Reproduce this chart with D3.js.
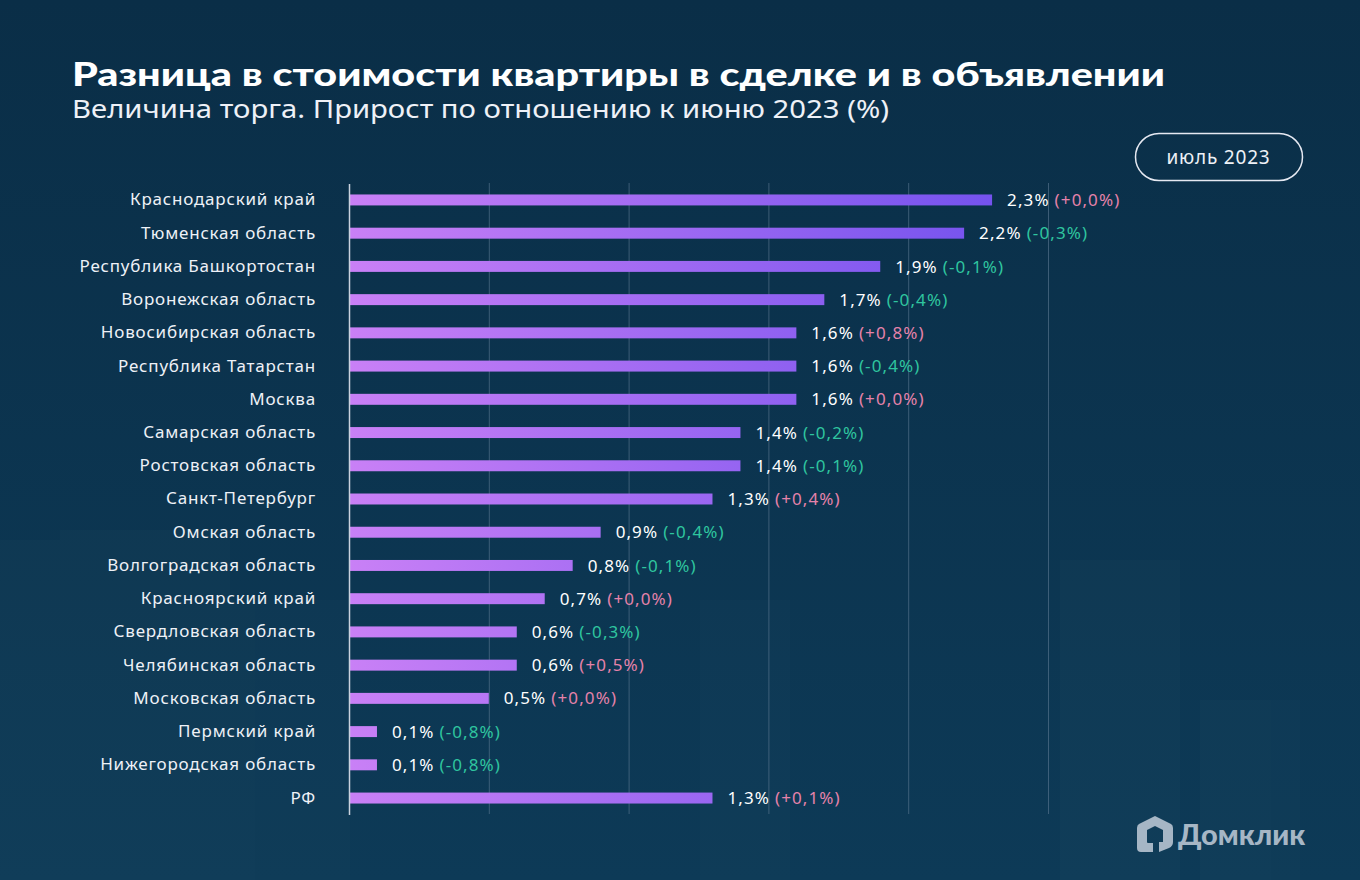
<!DOCTYPE html>
<html><head><meta charset="utf-8">
<script src="https://cdn.jsdelivr.net/npm/d3@7"></script>
<style>
html,body{margin:0;padding:0;background:#0c3350;}
svg{display:block;}
</style></head>
<body>
<script>
const regions = ["Краснодарский край","Тюменская область","Республика Башкортостан","Воронежская область","Новосибирская область","Республика Татарстан","Москва","Самарская область","Ростовская область","Санкт-Петербург","Омская область","Волгоградская область","Красноярский край","Свердловская область","Челябинская область","Московская область","Пермский край","Нижегородская область","РФ"];
const values = [2.3,2.2,1.9,1.7,1.6,1.6,1.6,1.4,1.4,1.3,0.9,0.8,0.7,0.6,0.6,0.5,0.1,0.1,1.3];
const changes = [0.0,-0.3,-0.1,-0.4,0.8,-0.4,0.0,-0.2,-0.1,0.4,-0.4,-0.1,0.0,-0.3,0.5,0.0,-0.8,-0.8,0.1];
const gridTicks = [0.5,1.0,1.5,2.0,2.5];
const title = "Разница в стоимости квартиры в сделке и в объявлении";
const subtitle = "Величина торга. Прирост по отношению к июню 2023 (%)";
const period = "июль 2023";
const brand = "Домклик";

const W=1360,H=880;
const svg=d3.select("body").append("svg").attr("width",W).attr("height",H);
const defs=svg.append("defs");
const grad=defs.append("linearGradient").attr("id","bg").attr("gradientUnits","userSpaceOnUse")
  .attr("x1",349).attr("x2",1000).attr("y1",0).attr("y2",0);
grad.append("stop").attr("offset",0).attr("stop-color","#c980f6");
grad.append("stop").attr("offset",1).attr("stop-color","#7452ee");

const bgGrad=defs.append("linearGradient").attr("id","bk").attr("x1",0).attr("x2",0).attr("y1",0).attr("y2",1);
bgGrad.append("stop").attr("offset",0).attr("stop-color","#0a2e47");
bgGrad.append("stop").attr("offset",1).attr("stop-color","#0d3a57");
svg.append("rect").attr("width",W).attr("height",H).attr("fill","url(#bk)");

// faint background silhouettes
const deco=svg.append("g").attr("fill","#ffffff").attr("opacity",0.012);
[[0,540,60,340],[60,530,170,350],[230,600,120,280],[1200,700,100,180],[1060,560,120,320],[700,600,90,280]].forEach(d=>{
  deco.append("rect").attr("x",d[0]).attr("y",d[1]).attr("width",d[2]).attr("height",d[3]);
});

const x=d3.scaleLinear().domain([0,2.5]).range([349,1048]);
const y=d3.scaleBand().domain(regions).range([183.5,814.5]).paddingInner(0.67).paddingOuter(0.33);

// title
svg.append("text").attr("x",72).attr("y",86).text(title)
  .attr("font-family","Lato, 'Noto Sans', sans-serif").attr("font-weight",900).attr("font-size",32)
  .attr("fill","#ffffff").attr("textLength",1093).attr("lengthAdjust","spacingAndGlyphs");
svg.append("text").attr("x",72).attr("y",118).text(subtitle)
  .attr("font-family","'Noto Sans', sans-serif").attr("font-weight",400).attr("font-size",25)
  .attr("fill","#eef1f7").attr("textLength",817).attr("lengthAdjust","spacingAndGlyphs");

// period pill
svg.append("rect").attr("x",1135.5).attr("y",133.5).attr("width",167).attr("height",47).attr("rx",23.5)
  .attr("fill","none").attr("stroke","#e6e9f2").attr("stroke-width",1.5);
svg.append("text").attr("x",1218.5).attr("y",164).attr("text-anchor","middle").text(period)
  .attr("font-family","'Noto Sans', sans-serif").attr("font-size",19).attr("letter-spacing",0.8).attr("fill","#eef1f7");

// grid
const gAxis=d3.axisBottom(x).tickValues(gridTicks).tickSize(-(814-183)).tickFormat("");
const gg=svg.append("g").attr("transform","translate(0,814)").call(gAxis);
gg.select(".domain").remove();
gg.selectAll(".tick line").attr("stroke","#5d7a93").attr("stroke-opacity",0.6).attr("stroke-width",1);

// bars
svg.append("g").selectAll("rect").data(regions).join("rect")
  .attr("x",x(0)).attr("y",d=>y(d)).attr("height",y.bandwidth())
  .attr("width",(d,i)=>x(values[i])-x(0)).attr("fill","url(#bg)");

// baseline axis
const yAxis=d3.axisLeft(y).tickSize(0).tickPadding(33);
const ya=svg.append("g").attr("transform","translate(349,0)").call(yAxis);
ya.select(".domain").attr("stroke","#c9d2de").attr("stroke-width",1.5);
ya.selectAll(".tick text").attr("font-family","'Noto Sans', sans-serif").attr("font-size",17)
  .attr("letter-spacing",0.8).attr("fill","#eef1f7");

const fmt=v=>v.toFixed(1).replace(".",",");
const lbl=svg.append("g").selectAll("text").data(regions).join("text")
  .attr("x",(d,i)=>x(values[i])+15).attr("y",d=>y(d)+y.bandwidth()/2).attr("dy","0.36em")
  .attr("font-family","'Noto Sans', sans-serif").attr("font-size",17).attr("letter-spacing",1.1);
lbl.append("tspan").attr("fill","#ffffff").text((d,i)=>fmt(values[i])+"%");
lbl.append("tspan").attr("dx",5).attr("fill",(d,i)=>changes[i]<0?"#2fc59f":"#e582aa")
  .text((d,i)=>"("+(changes[i]<0?"-":"+")+fmt(Math.abs(changes[i]))+"%)");

// brand
const bgp=svg.append("g").attr("transform","translate(1137,816)");
bgp.append("path").attr("d","M18 0 L34 8 Q36 9 36 12 L36 26 Q36 30 32 32 L22 36 L22 26 L26 26 L26 14 L18 10 L10 14 L10 26 Q10 27 11 27 L16 27 L16 36 L4 36 Q0 36 0 32 L0 12 Q0 9 2 8 Z")
  .attr("fill","#a6b6c5");
svg.append("text").attr("x",1178).attr("y",845).text(brand)
  .attr("font-family","Lato, sans-serif").attr("font-weight",900).attr("font-size",29).attr("fill","#a6b6c5");
</script>
</body></html>
